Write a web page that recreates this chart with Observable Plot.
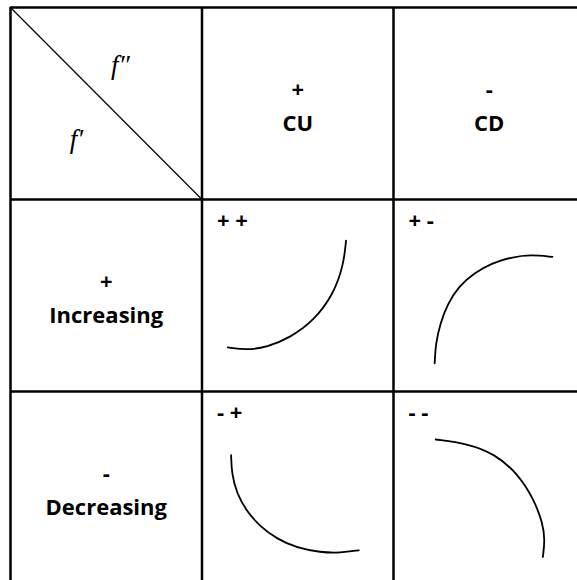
<!DOCTYPE html>
<html>
<head>
<meta charset="utf-8">
<script src="https://cdn.jsdelivr.net/npm/d3@7"></script>
<script src="https://cdn.jsdelivr.net/npm/@observablehq/plot@0.6"></script>
<style>
  html, body { margin: 0; padding: 0; background: #fff; }
  svg { display: block; }
</style>
</head>
<body>
<div id="chart"></div>
<script>
// Column headers (sign of f'') and row headers (sign of f')
const colHeaders = ["+\nCU", "-\nCD"];
const rowHeaders = ["+\nIncreasing", "-\nDecreasing"];
// Sign labels in each curve cell
const cellLabels = [
  {col: 1, row: 1, label: "+ +"},
  {col: 2, row: 1, label: "+ -"},
  {col: 1, row: 2, label: "- +"},
  {col: 2, row: 2, label: "- -"}
];
// Corner cell labels (x,y in table units)
const cornerLabels = [
  {x: 0.574, y: 0.30, label: "f\u2033"},
  {x: 0.345, y: 0.685, label: "f\u2032"}
];
// Curve shapes, in percent of the cell (lx right, ly down)
const curvePP = [[13.5,77.0],[23.4,78.4],[33.9,77.0],[46.1,71.9],[58.3,63.2],[68.7,49.4],[74.0,33.8],[75.2,21.4]];
const curvePM = [[21.5,85.3],[22.0,75.3],[24.3,64.9],[28.1,54.6],[34.2,45.1],[42.1,38.2],[51.7,33.0],[61.3,30.1],[71.7,28.7],[83.0,29.9]];
const curveMP = [[15.2,33.2],[15.5,42.7],[18.1,53.0],[23.4,62.5],[30.4,70.3],[39.1,76.8],[49.6,81.5],[61.8,83.8],[72.3,84.1],[81.9,82.7]];
const curveMM = [[22.0,25.0],[38.6,27.1],[52.5,32.3],[64.8,42.6],[73.5,56.5],[77.9,68.6],[79.1,77.2],[78.0,86.2]];
const curves = [
  {col: 1, row: 1, pts: curvePP},
  {col: 2, row: 1, pts: curvePM},
  {col: 1, row: 2, pts: curveMP},
  {col: 2, row: 2, pts: curveMM}
];
// Grid boundaries in table units
const gridLines = [0, 1, 2, 3];

const curvePoints = curves.flatMap((c, i) =>
  c.pts.map(([lx, ly]) => ({id: i, x: c.col + lx / 100, y: c.row + ly / 100}))
);
const headerData = [
  ...colHeaders.map((t, i) => ({x: i + 1.5, y: 0.5, t})),
  ...rowHeaders.map((t, i) => ({x: 0.5, y: i + 1.5, t}))
];

const bold = "'Open Sans', sans-serif";

const chart = Plot.plot({
  width: 577,
  height: 580,
  margin: 0,
  x: {domain: [0, 3], range: [10, 584.5], axis: null},
  y: {domain: [0, 3], range: [7, 583], axis: null},
  style: {background: "#fff", color: "#000"},
  marks: [
    Plot.ruleX(gridLines, {x: d => d, y1: 0, y2: 3, stroke: "#000", strokeWidth: 2.5}),
    Plot.ruleY(gridLines, {y: d => d, x1: 0, x2: 3, stroke: "#000", strokeWidth: 2.5}),
    Plot.link([{x1: 0, y1: 0, x2: 1, y2: 1}], {x1: "x1", y1: "y1", x2: "x2", y2: "y2", stroke: "#000", strokeWidth: 1.2}),
    Plot.line(curvePoints, {x: "x", y: "y", z: "id", curve: "basis", stroke: "#000", strokeWidth: 1.8}),
    Plot.text(headerData, {x: "x", y: "y", text: "t", fontSize: 22, fontWeight: "bold", fontFamily: bold, lineHeight: 1.55, lineAnchor: "middle", fill: "#000"}),
    Plot.text(cellLabels, {x: "col", y: "row", text: "label", textAnchor: "start", dx: 15, dy: 21, fontSize: 22, fontWeight: "bold", fontFamily: bold, lineAnchor: "middle", fill: "#000"}),
    Plot.text(cornerLabels, {x: "x", y: "y", text: "label", fontSize: 27, fontStyle: "italic", fontFamily: "'Liberation Serif', serif", lineAnchor: "middle", fill: "#000"})
  ]
});
document.getElementById("chart").appendChild(chart);
</script>
</body>
</html>
